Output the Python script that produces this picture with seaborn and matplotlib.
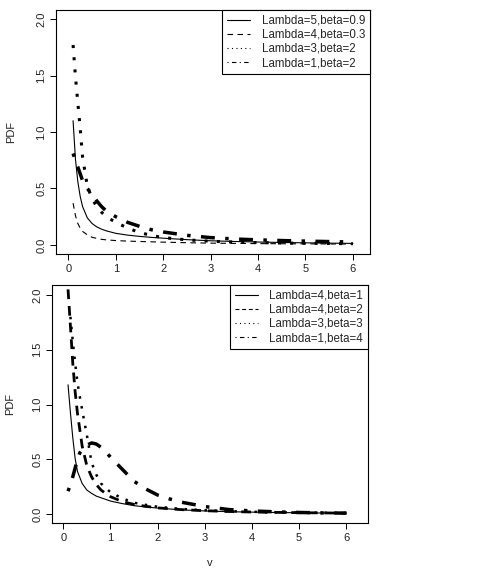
import matplotlib
matplotlib.use("Agg")
import matplotlib.pyplot as plt
import seaborn as sns

# ---- top panel data ----
v_top = [0.1, 0.15, 0.2, 0.25, 0.3, 0.4, 0.5, 0.6, 0.7, 0.8, 1.0, 1.25, 1.5,
         1.75, 2.0, 2.5, 3.0, 3.5, 4.0, 4.5, 5.0, 5.5, 6.0]
top_l5_b09 = [1.10, 0.76, 0.56, 0.43, 0.34, 0.24, 0.19, 0.16, 0.14, 0.125, 0.103, 0.087,
              0.076, 0.067, 0.060, 0.047, 0.037, 0.031, 0.026, 0.022, 0.019, 0.016, 0.014]
top_l4_b03 = [0.37, 0.26, 0.19, 0.15, 0.12, 0.09, 0.068, 0.058, 0.050, 0.045, 0.039, 0.034,
              0.031, 0.028, 0.025, 0.020, 0.016, 0.014, 0.012, 0.011, 0.010, 0.009, 0.008]
top_l3_b2 = [1.77, 1.49, 1.26, 1.03, 0.78, 0.52, 0.41, 0.34, 0.29, 0.25, 0.20, 0.15,
             0.11, 0.085, 0.065, 0.045, 0.033, 0.026, 0.021, 0.017, 0.015, 0.013, 0.011]
top_l1_b2 = [0.81, 0.75, 0.69, 0.63, 0.57, 0.50, 0.45, 0.39, 0.34, 0.30, 0.25, 0.20,
             0.165, 0.135, 0.115, 0.085, 0.065, 0.053, 0.045, 0.039, 0.034, 0.030, 0.026]
top_labels = ["Lambda=5,beta=0.9", "Lambda=4,beta=0.3", "Lambda=3,beta=2", "Lambda=1,beta=2"]

# ---- bottom panel data ----
v_bot = [0.1, 0.15, 0.2, 0.25, 0.3, 0.4, 0.5, 0.6, 0.7, 0.8, 1.0, 1.25, 1.5,
         1.75, 2.0, 2.5, 3.0, 3.5, 4.0, 4.5, 5.0, 5.5, 6.0]
bot_l4_b1 = [1.18, 0.93, 0.70, 0.51, 0.39, 0.28, 0.22, 0.19, 0.165, 0.15, 0.12, 0.097,
             0.078, 0.066, 0.056, 0.040, 0.030, 0.023, 0.019, 0.016, 0.013, 0.011, 0.009]
bot_l4_b2 = [2.05, 1.72, 1.38, 1.12, 0.92, 0.62, 0.44, 0.34, 0.27, 0.22, 0.16, 0.115,
             0.090, 0.072, 0.058, 0.042, 0.032, 0.025, 0.020, 0.017, 0.014, 0.012, 0.010]
v_bot3 = [0.15, 0.2, 0.25, 0.3, 0.35, 0.4, 0.5, 0.6, 0.7, 0.8, 1.0, 1.25, 1.5,
          1.75, 2.0, 2.5, 3.0, 3.5, 4.0, 4.5, 5.0, 5.5, 6.0]
bot_l3_b3 = [1.80, 1.58, 1.38, 1.20, 1.07, 0.95, 0.72, 0.47, 0.36, 0.28, 0.20, 0.145,
             0.105, 0.085, 0.068, 0.048, 0.036, 0.028, 0.022, 0.018, 0.015, 0.013, 0.011]
v_bot4 = [0.1, 0.15, 0.2, 0.25, 0.3, 0.35, 0.4, 0.5, 0.6, 0.7, 0.8, 0.9, 1.0, 1.25,
          1.5, 1.75, 2.0, 2.25, 2.5, 3.0, 3.5, 4.0, 4.5, 5.0, 5.5, 6.0]
bot_l1_b4 = [0.21, 0.27, 0.34, 0.42, 0.50, 0.56, 0.59, 0.63, 0.65, 0.64, 0.61, 0.57, 0.52,
             0.41, 0.30, 0.23, 0.175, 0.14, 0.11, 0.07, 0.043, 0.030, 0.022, 0.016, 0.012, 0.010]
bot_labels = ["Lambda=4,beta=1", "Lambda=4,beta=2", "Lambda=3,beta=3", "Lambda=1,beta=4"]

x_ticks = [0, 1, 2, 3, 4, 5, 6]
y_ticks = [0.0, 0.5, 1.0, 1.5, 2.0]

sns.set_style("white")
plt.rcParams["font.family"] = ["Liberation Sans", "DejaVu Sans"]

fig = plt.figure(figsize=(4.88, 5.69), dpi=100)
ax1 = fig.add_axes([56 / 488, 1 - 254 / 569, 314 / 488, 244 / 569])
ax2 = fig.add_axes([52 / 488, 1 - 523 / 569, 316 / 488, 238 / 569])

SOLID = "-"
DASHED = (0, (5, 4))
DOTTED = (0, (1, 3))
DOTDASH = (0, (1, 3, 4, 3))


def draw_panel(ax, series, labels, widths, styles, xlim, ylim):
    for (vx, vy), lab, w, s in zip(series, labels, widths, styles):
        sns.lineplot(x=vx, y=vy, ax=ax, color="black", linewidth=w, linestyle=s,
                     label=lab, estimator=None, sort=False)
    ax.set_xlim(*xlim)
    ax.set_ylim(*ylim)
    ax.set_xticks(x_ticks)
    ax.set_yticks(y_ticks)
    ax.set_xticklabels([str(t) for t in x_ticks])
    ax.set_yticklabels([f"{t:.1f}" for t in y_ticks], rotation=90, va="center")
    ax.tick_params(direction="out", length=4, width=0.7, labelsize=8, pad=3,
                   colors="black", labelcolor="#222222", left=True, bottom=True)
    for sp in ax.spines.values():
        sp.set_color("black")
        sp.set_linewidth(0.8)
    ax.set_ylabel("PDF", fontsize=8, color="#222222")
    ax.set_xlabel("")
    leg = ax.legend(loc="upper right", borderaxespad=0, fontsize=8.3, frameon=True,
                    fancybox=False, edgecolor="black", framealpha=1,
                    handlelength=2.0, handletextpad=1.0, labelspacing=0.18,
                    borderpad=0.42)
    leg.get_frame().set_linewidth(0.8)
    for ln in leg.get_lines():
        ln.set_linewidth(0.8)


draw_panel(ax1,
           [(v_top, top_l5_b09), (v_top, top_l4_b03), (v_top, top_l3_b2), (v_top, top_l1_b2)],
           top_labels, [0.8, 0.8, 2.2, 2.5], [SOLID, DASHED, DOTTED, DOTDASH],
           (-0.26, 6.36), (-0.08, 2.08))
ax1.yaxis.set_label_coords(-0.128, 0.5)

draw_panel(ax2,
           [(v_bot, bot_l4_b1), (v_bot, bot_l4_b2), (v_bot3, bot_l3_b3), (v_bot4, bot_l1_b4)],
           bot_labels, [0.8, 2.0, 1.8, 2.5], [SOLID, (0, (3.5, 2.5)), DOTTED, DOTDASH],
           (-0.24, 6.46), (-0.08, 2.09))
ax2.yaxis.set_label_coords(-0.118, 0.5)
ax2.set_xlabel("v", fontsize=8, color="#222222")
ax2.xaxis.set_label_coords(0.5, -0.145)

fig.savefig("out.png", dpi=100)
